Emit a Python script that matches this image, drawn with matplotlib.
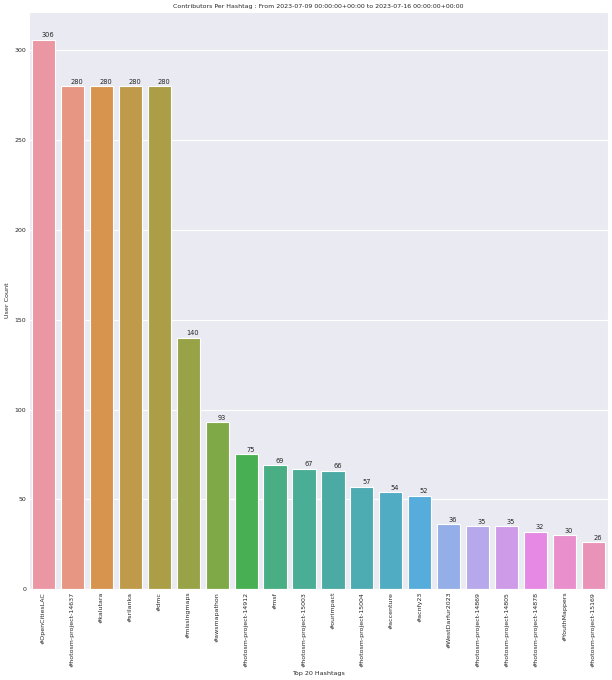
import matplotlib
matplotlib.use("Agg")
import matplotlib.pyplot as plt
import seaborn as sns

hashtags = ["#OpenCitiesLAC", "#hotosm-project-14637", "#kalutara", "#srilanka", "#dmc",
            "#missingmaps", "#awsmapathon", "#hotosm-project-14912", "#msf",
            "#hotosm-project-15003", "#ourimpact", "#hotosm-project-15004", "#accenture",
            "#acnfy23", "#WestDarfur2023", "#hotosm-project-14869", "#hotosm-project-14805",
            "#hotosm-project-14878", "#YouthMappers", "#hotosm-project-15169"]
user_counts = [306, 280, 280, 280, 280, 140, 93, 75, 69, 67, 66, 57, 54, 52, 36, 35, 35, 32, 30, 26]
yticks = [0, 50, 100, 150, 200, 250, 300]

sns.set_style("darkgrid")
plt.rcParams['font.family'] = ['DejaVu Sans']

fig = plt.figure(figsize=(6.12, 6.8), dpi=100)
ax = fig.add_axes([0.0474, 0.1338, 0.946, 0.8482])

colors = [sns.desaturate(c, 0.75) for c in sns.husl_palette(len(hashtags), l=0.7)]
x = list(range(len(hashtags)))
bars = ax.bar(x, user_counts, width=0.8, color=colors, edgecolor="white", linewidth=0.8)
for xi, v in zip(x, user_counts):
    ax.text(xi + 0.15, v + 0.8, str(v), ha="center", va="bottom", fontsize=4.8, color="#262626")

ax.set_xlim(-0.5, len(hashtags) - 0.5)
ax.set_ylim(0, max(user_counts) * 1.05)
ax.set_xticks(x)
ax.set_xticklabels(hashtags, rotation=90, fontsize=4.5)
ax.set_yticks(yticks)
ax.set_yticklabels([str(t) for t in yticks], fontsize=4.5)
ax.tick_params(axis="both", pad=2, length=0)
ax.set_xlabel("Top 20 Hashtags", fontsize=4.6, labelpad=3)
ax.set_ylabel("User Count", fontsize=4.6, labelpad=3)
ax.set_title("Contributors Per Hashtag : From 2023-07-09 00:00:00+00:00 to 2023-07-16 00:00:00+00:00",
             fontsize=4.5, pad=3)
ax.grid(axis="x", visible=False)
ax.grid(axis="y", color="white", linewidth=0.8)

fig.savefig("out.png", dpi=100)
